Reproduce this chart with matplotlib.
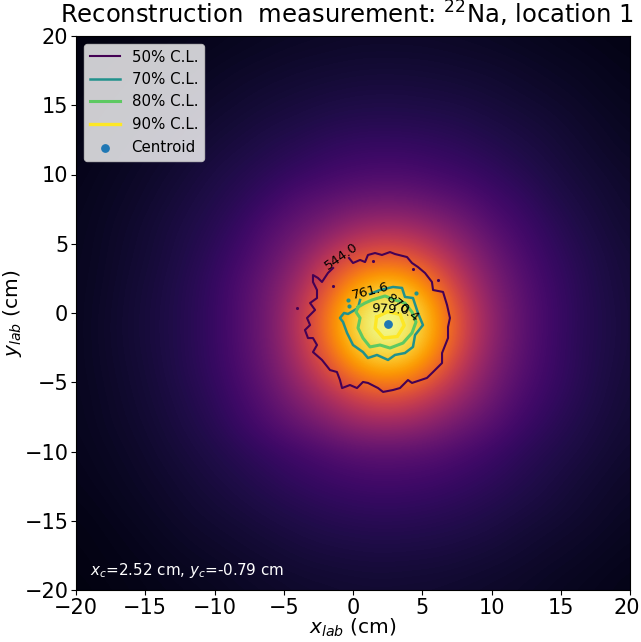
import numpy as np
import matplotlib
matplotlib.use("Agg")
import matplotlib.pyplot as plt
from matplotlib.transforms import ScaledTranslation

# image values on a 2 cm grid, top row is y=20, left column is x=-20
counts = np.array([
    [28, 32, 36, 42, 48, 54, 60, 66, 70, 74, 78, 78, 78, 76, 72, 68, 62, 56, 50, 45, 40],
    [32, 36, 42, 50, 58, 66, 74, 80, 88, 92, 96, 98, 97, 95, 90, 85, 78, 70, 62, 55, 47],
    [35, 42, 50, 60, 68, 78, 88, 98, 105, 112, 118, 120, 119, 115, 110, 102, 92, 82, 74, 62, 54],
    [40, 48, 56, 68, 80, 92, 104, 116, 126, 138, 145, 148, 146, 142, 135, 122, 112, 100, 85, 74, 62],
    [45, 54, 66, 78, 92, 108, 122, 140, 155, 172, 186, 190, 188, 178, 165, 148, 130, 115, 98, 82, 70],
    [50, 62, 74, 88, 105, 125, 145, 165, 190, 215, 235, 245, 242, 225, 205, 180, 155, 130, 110, 95, 80],
    [54, 68, 80, 98, 118, 140, 165, 205, 262, 292, 325, 340, 335, 308, 275, 225, 190, 150, 125, 105, 88],
    [58, 72, 88, 108, 130, 155, 195, 265, 320, 385, 465, 500, 490, 435, 360, 280, 222, 175, 140, 115, 96],
    [60, 74, 92, 112, 138, 172, 225, 300, 395, 535, 650, 700, 680, 580, 455, 340, 255, 195, 155, 125, 104],
    [62, 76, 98, 118, 148, 185, 255, 340, 470, 650, 850, 950, 910, 750, 545, 390, 285, 212, 165, 130, 108],
    [62, 80, 100, 122, 150, 190, 260, 355, 525, 750, 980, 1085, 1050, 860, 615, 425, 300, 222, 168, 135, 110],
    [62, 80, 100, 122, 150, 190, 258, 355, 515, 740, 965, 1075, 1035, 850, 612, 420, 298, 218, 165, 135, 110],
    [62, 78, 96, 118, 148, 185, 248, 335, 470, 630, 815, 910, 875, 725, 535, 385, 280, 212, 165, 130, 108],
    [60, 74, 92, 112, 138, 170, 225, 295, 390, 490, 595, 660, 635, 545, 440, 335, 250, 195, 155, 125, 102],
    [58, 72, 86, 105, 128, 155, 198, 252, 310, 368, 435, 460, 448, 395, 330, 275, 212, 170, 140, 115, 98],
    [54, 66, 78, 96, 115, 135, 160, 190, 220, 250, 280, 290, 285, 270, 240, 205, 170, 145, 125, 105, 88],
    [50, 60, 72, 85, 102, 120, 138, 158, 182, 200, 215, 225, 220, 210, 190, 170, 148, 128, 108, 92, 78],
    [44, 52, 64, 76, 90, 104, 118, 134, 148, 162, 172, 176, 174, 166, 156, 142, 126, 112, 96, 82, 70],
    [38, 46, 54, 66, 78, 88, 98, 110, 122, 132, 138, 142, 140, 136, 128, 118, 104, 92, 82, 72, 60],
    [34, 42, 48, 56, 66, 74, 84, 92, 102, 108, 112, 114, 112, 110, 104, 96, 88, 78, 70, 60, 52],
    [30, 35, 42, 48, 54, 60, 70, 76, 84, 88, 92, 94, 92, 90, 85, 80, 74, 66, 58, 52, 46],
])

# contour outlines
x50 = [-0.29, 0.00, 0.51, 0.87, 1.08, 1.59, 2.09, 2.67, 3.03, 3.90, 4.26, 4.69, 5.20, 5.70, 5.78, 6.50, 6.79, 7.00,
       6.86, 6.86, 6.43, 6.43, 5.78, 5.34, 4.26, 3.97, 3.39, 2.89, 2.17, 1.81, 1.08, 0.72, 0.29, -0.22, -0.79, -0.94,
       -1.16, -1.66, -2.24, -2.89, -2.60, -2.89, -3.25, -3.47, -3.10, -3.32, -2.96, -2.74, -3.10, -2.60, -2.60, -2.89,
       -2.89, -2.53, -2.24, -1.81, -1.44]
y50 = [3.97, 3.61, 3.83, 3.68, 4.19, 4.33, 4.19, 4.40, 4.26, 4.04, 3.61, 3.32, 2.89, 2.24, 1.66, 1.52, 0.58, -0.36,
       -1.01, -1.81, -2.89, -3.61, -4.26, -4.69, -5.05, -4.84, -5.42, -5.56, -5.70, -5.42, -5.05, -4.98, -5.42, -5.20,
       -5.42, -4.84, -4.26, -4.12, -3.39, -2.82, -2.31, -1.81, -1.81, -1.23, -0.87, -0.36, 0.00, 0.22, 0.72, 1.08,
       1.66, 2.24, 2.74, 2.53, 2.24, 2.89, 3.25]
x70 = [1.23, 1.95, 2.89, 3.54, 3.75, 4.33, 4.69, 5.05, 4.48, 4.33, 3.75, 3.03, 2.53, 1.73, 1.08, 0.72, 0.00, -0.43,
       -0.72, -0.94, -0.65, -0.36, 0.36, 0.51]
y70 = [1.37, 1.66, 1.88, 1.81, 1.16, 1.08, 0.00, -0.87, -1.59, -2.45, -2.89, -3.03, -3.39, -3.03, -3.25, -2.82, -2.31,
       -1.44, -0.65, -0.36, 0.00, -0.07, 0.36, 0.94]
x80 = [0.36, 0.87, 1.37, 2.31, 3.03, 3.75, 4.26, 4.55, 4.26, 3.61, 2.67, 1.95, 1.23, 0.72, 0.36, 0.51, 0.22, 0.36]
y80 = [0.43, 0.72, 0.94, 1.23, 0.94, 0.72, 0.07, -0.65, -1.44, -2.17, -2.53, -2.31, -2.45, -1.81, -1.08, -0.36, 0.07, 0.43]
x90 = [1.7, 2.5, 3.4, 3.7, 3.2, 2.2, 1.6, 1.7]
y90 = [-0.3, 0.1, -0.1, -0.9, -1.7, -1.8, -1.1, -0.3]

# small closed islands of the 50% and 70% contours
spots50_x = [1.44, 4.33, 6.14, -1.44, -4.04]
spots50_y = [3.75, 3.18, 2.38, 1.95, 0.36]
spots70_x = [-0.36, -0.29, 4.55]
spots70_y = [0.94, 0.51, 1.44]

xc = 2.52
yc = -0.79

fig = plt.figure(figsize=(6.41, 6.42), dpi=100)
ax = fig.add_axes([76 / 641, 52 / 642, 554 / 641, 554 / 642])

ax.imshow(counts, cmap="inferno", vmin=0, vmax=1088, extent=(-21, 21, -21, 21),
          interpolation="bicubic", aspect="auto")

ax.plot(x50, y50, color="#440154", lw=1.5, label="50% C.L.")
ax.plot(x70, y70, color="#21918c", lw=1.8, label="70% C.L.")
ax.plot(x80, y80, color="#5ec962", lw=2.2, label="80% C.L.")
ax.plot(x90, y90, color="#fde725", lw=2.4, label="90% C.L.")
ax.scatter(spots50_x, spots50_y, s=5, color="#440154", linewidths=0)
ax.scatter(spots70_x, spots70_y, s=9, color="#21918c", linewidths=0)
ax.scatter([xc], [yc], s=28, color="#1f77b4", zorder=5, label="Centroid")

ax.text(-0.82, 4.07, "544.0", fontsize=9.5, rotation=35, ha="center", va="center")
ax.text(1.23, 1.61, "761.6", fontsize=9.5, rotation=14, ha="center", va="center")
ax.text(3.56, 0.34, "870.4", fontsize=9.5, rotation=-38, ha="center", va="center")
ax.text(2.67, 0.24, "979.0", fontsize=9.5, rotation=-3, ha="center", va="center")

ax.set_xlim(-20, 20)
ax.set_ylim(-20, 20)
ax.set_xticks(np.arange(-20, 21, 5))
ax.set_yticks(np.arange(-20, 21, 5))
ax.tick_params(labelsize=15, pad=2, length=3.5)
ax.set_xlabel(r"$x_{lab}$ (cm)", fontsize=14.5, labelpad=-1)
ax.set_ylabel(r"$y_{lab}$ (cm)", fontsize=14.5, labelpad=0)

# keep the last x tick label inside the figure
last = ax.get_xticklabels()[-1]
last.set_transform(last.get_transform() + ScaledTranslation(-3 / 100, 0, fig.dpi_scale_trans))

ax.legend(loc="upper left", fontsize=10.8, borderaxespad=0.5)
ax.text(-19, -18.6, r"$x_c$=2.52 cm, $y_c$=-0.79 cm", color="white", fontsize=10.9, va="center")

fig.text(60 / 641, 1 - 14 / 642, r"Reconstruction  measurement: $^{22}$Na, location 1",
         fontsize=17.5, va="center", ha="left")

fig.savefig("out.png", dpi=100)
